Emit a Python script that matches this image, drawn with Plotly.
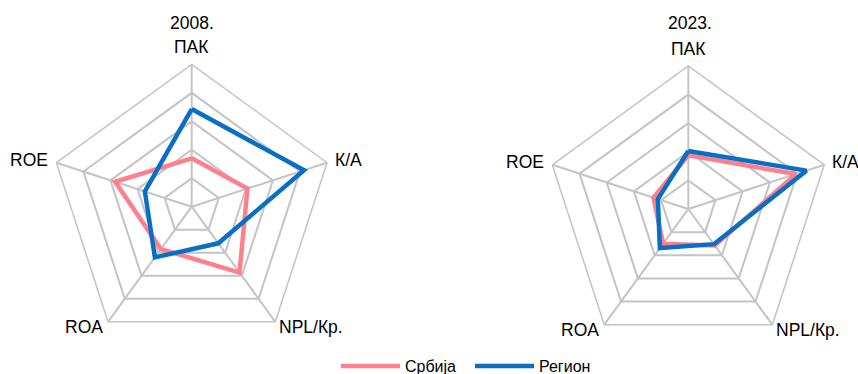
import math
import plotly.graph_objects as go

categories = ["ПАК", "К/А", "NPL/Кр.", "ROA", "ROE"]
serbia_2008 = [1.70, 2.06, 2.86, 1.84, 2.83]
region_2008 = [3.43, 4.15, 1.59, 2.20, 1.73]
serbia_2023 = [1.88, 3.95, 1.58, 1.50, 1.28]
region_2023 = [2.03, 4.34, 1.52, 1.69, 1.12]
titles = ["2008.", "2023."]
series_names = ["Србија", "Регион"]

PINK = "#FF7F8C"
BLUE = "#0A6EC4"
GRID = "#C4C4C4"
FONT = "Liberation Sans, Arial, sans-serif"

W, H = 858, 374
GEOM = [(191.7, 206.7, 142.3), (688.3, 209, 143)]  # polar centre (px) and radius

def closed(v):
    return list(v) + [v[0]]

cats_closed = closed(categories)

fig = go.Figure()
for i, (s, r) in enumerate([(serbia_2008, region_2008), (serbia_2023, region_2023)]):
    pname = "polar" if i == 0 else "polar2"
    fig.add_trace(go.Scatterpolar(r=closed(s), theta=cats_closed, mode="lines",
                                  line=dict(color=PINK, width=4.5), name=series_names[0],
                                  subplot=pname, showlegend=(i == 0)))
    fig.add_trace(go.Scatterpolar(r=closed(r), theta=cats_closed, mode="lines",
                                  line=dict(color=BLUE, width=4.5), name=series_names[1],
                                  subplot=pname, showlegend=(i == 0)))

def dom(cx, cy, rad):
    return dict(x=[(cx - rad) / W, (cx + rad) / W],
                y=[(H - cy - rad) / H, (H - cy + rad) / H])

def polar_layout(cx, cy, rad):
    return dict(
        domain=dom(cx, cy, rad),
        gridshape="linear",
        bgcolor="white",
        radialaxis=dict(range=[0, 5], dtick=1, showticklabels=False, ticks="",
                        showline=False, gridcolor=GRID, gridwidth=1.5),
        angularaxis=dict(direction="clockwise", rotation=90, showline=True,
                         linecolor=GRID, linewidth=1.5, gridcolor=GRID, gridwidth=1.5,
                         ticks="", showticklabels=False,
                         categoryorder="array", categoryarray=categories),
    )

# category label placement (anchor, shifts) for each spoke, clockwise from top
label_style = [
    dict(xanchor="center", yanchor="middle", xshift=0, yshift=17),
    dict(xanchor="left", yanchor="middle", xshift=6, yshift=3),
    dict(xanchor="left", yanchor="middle", xshift=2, yshift=-5),
    dict(xanchor="right", yanchor="middle", xshift=-3, yshift=-5),
    dict(xanchor="right", yanchor="middle", xshift=-6, yshift=3),
]

annotations = []
for (cx, cy, rad), title in zip(GEOM, titles):
    n = len(categories)
    for k, (cat, st) in enumerate(zip(categories, label_style)):
        ang = math.pi / 2 - 2 * math.pi * k / n
        vx = cx + rad * math.cos(ang)
        vy = cy - rad * math.sin(ang)
        annotations.append(dict(text=cat, x=vx / W, y=(H - vy) / H, xref="paper", yref="paper",
                                showarrow=False, font=dict(size=17.5, family=FONT, color="#000"),
                                **st))
    annotations.append(dict(text=title, x=(cx + 2 if title == titles[1] else cx) / W,
                            y=(H - 22.5) / H, xref="paper", yref="paper",
                            showarrow=False, font=dict(size=17.5, family=FONT, color="#000"),
                            xanchor="center", yanchor="middle"))

fig.update_layout(
    width=W, height=H,
    margin=dict(l=0, r=0, t=0, b=0, autoexpand=False),
    paper_bgcolor="white",
    font=dict(family=FONT, color="#000"),
    polar=polar_layout(*GEOM[0]),
    polar2=polar_layout(*GEOM[1]),
    showlegend=True,
    legend=dict(orientation="h", x=336 / W, xanchor="left", y=-0.024, yanchor="bottom",
                bgcolor="rgba(0,0,0,0)",
                font=dict(size=16, family=FONT), itemwidth=59, entrywidth=60,
                tracegroupgap=0),
    annotations=annotations,
)

fig.write_html("out.html", config={"displayModeBar": False},
               post_script="document.body.style.margin='0';document.body.style.overflow='hidden';")
